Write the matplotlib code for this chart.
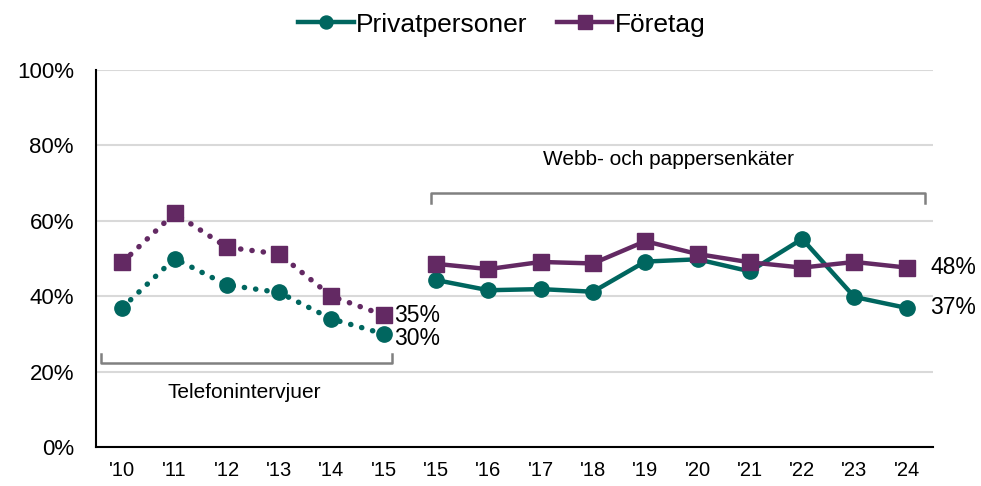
import matplotlib
matplotlib.use('Agg')
from matplotlib import pyplot as plt

plt.rcParams['font.family'] = ['Liberation Sans', 'DejaVu Sans']

years = ["'10", "'11", "'12", "'13", "'14", "'15", "'15", "'16", "'17", "'18",
         "'19", "'20", "'21", "'22", "'23", "'24"]
# telefonintervjuer 2010-2015, then webb/pappersenkater 2015-2024
priv_tel = [37, 50, 43, 41, 34, 30]
priv_web = [44.3, 41.6, 41.9, 41.2, 49.2, 49.8, 46.6, 55.2, 39.8, 36.9]
foretag_tel = [49, 62, 53, 51.2, 40, 35]
foretag_web = [48.6, 47.2, 49.1, 48.7, 54.6, 51.2, 49.0, 47.6, 49.1, 47.6]

teal = '#00665F'
purple = '#632963'

fig = plt.figure(figsize=(9.81, 4.86), dpi=100)
ax = fig.add_axes([0.098, 0.08, 0.853, 0.776])

x_tel = list(range(len(priv_tel)))
x_web = list(range(len(priv_tel), len(years)))

dot = dict(ls=(0, (0.05, 2.05)), lw=3.9, dash_capstyle='round')
ax.plot(x_tel, priv_tel, color=teal, marker='o', ms=11, **dot)
ax.plot(x_tel, foretag_tel, color=purple, marker='s', ms=12, **dot)
ax.plot(x_web, priv_web, '-', color=teal, lw=3.2, marker='o', ms=11, label='Privatpersoner')
ax.plot(x_web, foretag_web, '-', color=purple, lw=3.2, marker='s', ms=12, label='Företag')

# end value labels
ax.text(x_tel[-1] + 0.2, foretag_tel[-1], f'{foretag_tel[-1]:.0f}%', fontsize=16.5, va='center')
ax.text(x_tel[-1] + 0.2, priv_tel[-1] - 1.3, f'{priv_tel[-1]:.0f}%', fontsize=16.5, va='center')
ax.text(x_web[-1] + 0.45, foretag_web[-1], f'{foretag_web[-1]:.0f}%', fontsize=16.5, va='center')
ax.text(x_web[-1] + 0.45, priv_web[-1], f'{priv_web[-1]:.0f}%', fontsize=16.5, va='center')

# brackets for the survey methods
ax.plot([-0.4, -0.4, 5.15, 5.15], [24.8, 22.3, 22.3, 24.8], color='#808080', lw=1.8)
ax.text(2.33, 14.6, 'Telefonintervjuer', fontsize=15, ha='center', va='center')
ax.plot([5.9, 5.9, 15.35, 15.35], [64.6, 67.3, 67.3, 64.6], color='#808080', lw=1.8)
ax.text(10.45, 76.2, 'Webb- och pappersenkäter', fontsize=15, ha='center', va='center')

ax.set_xlim(-0.5, 15.5)
ax.set_ylim(0, 100)
ax.set_xticks(range(len(years)))
ax.set_xticklabels(years, fontsize=14.5)
ax.set_yticks(range(0, 101, 20))
ax.set_yticklabels([f'{v}%' for v in range(0, 101, 20)], fontsize=16)
ax.tick_params(length=0)
ax.tick_params(axis='x', pad=10)
ax.tick_params(axis='y', pad=16)
ax.grid(axis='y', color='#d9d9d9', lw=1.5)
ax.set_axisbelow(True)
for s in ['top', 'right']:
    ax.spines[s].set_visible(False)
ax.spines['left'].set_linewidth(1.5)
ax.spines['bottom'].set_linewidth(1.5)

ax.legend(loc='center', bbox_to_anchor=(0.485, 1.12), ncol=2, frameon=False,
          fontsize=19, handlelength=2.1, columnspacing=1.1, handletextpad=0.1,
          markerscale=0.85, borderaxespad=0)

plt.savefig('out.png', dpi=100)
